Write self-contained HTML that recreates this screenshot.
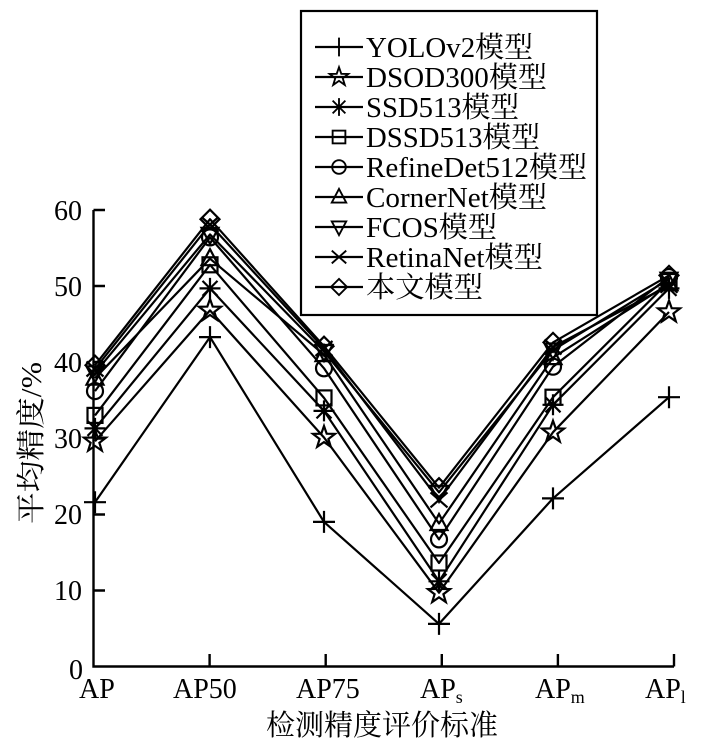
<!DOCTYPE html>
<html>
<head>
<meta charset="utf-8">
<style>
html,body{margin:0;padding:0;background:#fff;}
svg{display:block;}
text{font-family:"Liberation Serif","Noto Serif CJK SC",serif;fill:#000;}
</style>
</head>
<body>
<svg width="708" height="749" viewBox="0 0 708 749" xmlns="http://www.w3.org/2000/svg">
<defs>
  <g id="mPlus" fill="none" stroke="#000" stroke-width="2.2"><path d="M-11,0H11M0,-11V11"/></g>
  <g id="mStar" fill="none" stroke="#000" stroke-width="2.2"><polygon points="0,-11.5 2.7,-3.8 11,-3.6 4.4,1.5 6.8,9.3 0,4.6 -6.8,9.3 -4.4,1.5 -11,-3.6 -2.7,-3.8"/></g>
  <g id="mAst" fill="none" stroke="#000" stroke-width="2.2"><path d="M-10.5,0H10.5M0,-10.5V10.5M-7.5,-7.5L7.5,7.5M-7.5,7.5L7.5,-7.5"/></g>
  <g id="mSq" fill="none" stroke="#000" stroke-width="2.2"><rect x="-7.5" y="-7.5" width="15" height="15"/></g>
  <g id="mCir" fill="none" stroke="#000" stroke-width="2.2"><circle r="8"/></g>
  <g id="mTri" fill="none" stroke="#000" stroke-width="2.2"><polygon points="0,-9.5 8.5,6.5 -8.5,6.5"/></g>
  <g id="mNab" fill="none" stroke="#000" stroke-width="2.2"><polygon points="0,9.5 8.5,-6.5 -8.5,-6.5"/></g>
  <g id="mX" fill="none" stroke="#000" stroke-width="2.2"><path d="M-8.5,-7.5L8.5,7.5M-8.5,7.5L8.5,-7.5"/></g>
  <g id="mDia" fill="none" stroke="#000" stroke-width="2.2"><polygon points="0,-9.5 9.5,0 0,9.5 -9.5,0"/></g>
</defs>

<!-- axes -->
<g stroke="#000" stroke-width="2.4" fill="none">
  <path d="M93.5,210V666.5H674"/>
  <path d="M93.5,210H105M93.5,286H105M93.5,362H105M93.5,438.5H105M93.5,514.5H105M93.5,590.5H105"/>
  <path d="M209.6,666.5V654M325.7,666.5V654M441.8,666.5V654M557.9,666.5V654M674,666.5V654"/>
</g>

<!-- y tick labels -->
<g font-size="28" text-anchor="end">
  <text x="82" y="220">60</text>
  <text x="82" y="296">50</text>
  <text x="82" y="372">40</text>
  <text x="82" y="448">30</text>
  <text x="82" y="524">20</text>
  <text x="82" y="600">10</text>
  <text x="83" y="679">0</text>
</g>

<!-- x tick labels -->
<g font-size="28">
  <text x="79" y="698">AP</text>
  <text x="173" y="698">AP50</text>
  <text x="296" y="698">AP75</text>
  <text x="420" y="698">AP<tspan font-size="18" dy="5">s</tspan></text>
  <text x="535" y="698">AP<tspan font-size="18" dy="5">m</tspan></text>
  <text x="645" y="698">AP<tspan font-size="18" dy="5">l</tspan></text>
</g>

<!-- axis titles -->
<text x="382" y="735" font-size="29" text-anchor="middle" textLength="232" lengthAdjust="spacingAndGlyphs">检测精度评价标准</text>
<text transform="translate(41,443) rotate(-90)" font-size="29" text-anchor="middle" textLength="162" lengthAdjust="spacingAndGlyphs">平均精度/%</text>

<!-- series lines -->
<g fill="none" stroke="#000" stroke-width="2.2" stroke-linejoin="round">
  <polyline points="95,502.2 210,337.1 324,521.9 439,623.9 553,498.4 669,397.2"/>
  <polyline points="95,441.3 210,310.4 324,437.5 439,592.7 553,432.2 669,312.0"/>
  <polyline points="95,428.4 210,288.4 324,410.9 439,581.3 553,404.8 669,288.4"/>
  <polyline points="95,415.4 210,264.8 324,397.9 439,563.0 553,397.2 669,281.5"/>
  <polyline points="95,391.1 210,237.4 324,368.3 439,539.4 553,366.7 669,277.0"/>
  <polyline points="95,378.2 210,258.7 324,354.6 439,523.5 553,357.6 669,283.8"/>
  <polyline points="95,372.8 210,234.4 324,351.5 439,492.3 553,350.0 669,279.2"/>
  <polyline points="95,369.0 210,224.5 324,348.5 439,499.9 553,347.0 669,285.3"/>
  <polyline points="95,365.2 210,219.2 324,346.2 439,487.7 553,342.4 669,275.4"/>
</g>

<!-- markers -->
<g>
  <use href="#mPlus" x="95" y="502.2"/><use href="#mPlus" x="210" y="337.1"/><use href="#mPlus" x="324" y="521.9"/><use href="#mPlus" x="439" y="623.9"/><use href="#mPlus" x="553" y="498.4"/><use href="#mPlus" x="669" y="397.2"/>
  <use href="#mStar" x="95" y="441.3"/><use href="#mStar" x="210" y="310.4"/><use href="#mStar" x="324" y="437.5"/><use href="#mStar" x="439" y="592.7"/><use href="#mStar" x="553" y="432.2"/><use href="#mStar" x="669" y="312.0"/>
  <use href="#mAst" x="95" y="428.4"/><use href="#mAst" x="210" y="288.4"/><use href="#mAst" x="324" y="410.9"/><use href="#mAst" x="439" y="581.3"/><use href="#mAst" x="553" y="404.8"/><use href="#mAst" x="669" y="288.4"/>
  <use href="#mSq" x="95" y="415.4"/><use href="#mSq" x="210" y="264.8"/><use href="#mSq" x="324" y="397.9"/><use href="#mSq" x="439" y="563.0"/><use href="#mSq" x="553" y="397.2"/><use href="#mSq" x="669" y="281.5"/>
  <use href="#mCir" x="95" y="391.1"/><use href="#mCir" x="210" y="237.4"/><use href="#mCir" x="324" y="368.3"/><use href="#mCir" x="439" y="539.4"/><use href="#mCir" x="553" y="366.7"/><use href="#mCir" x="669" y="277.0"/>
  <use href="#mTri" x="95" y="378.2"/><use href="#mTri" x="210" y="258.7"/><use href="#mTri" x="324" y="354.6"/><use href="#mTri" x="439" y="523.5"/><use href="#mTri" x="553" y="357.6"/><use href="#mTri" x="669" y="283.8"/>
  <use href="#mNab" x="95" y="372.8"/><use href="#mNab" x="210" y="234.4"/><use href="#mNab" x="324" y="351.5"/><use href="#mNab" x="439" y="492.3"/><use href="#mNab" x="553" y="350.0"/><use href="#mNab" x="669" y="279.2"/>
  <use href="#mX" x="95" y="369.0"/><use href="#mX" x="210" y="224.5"/><use href="#mX" x="324" y="348.5"/><use href="#mX" x="439" y="499.9"/><use href="#mX" x="553" y="347.0"/><use href="#mX" x="669" y="285.3"/>
  <use href="#mDia" x="95" y="365.2"/><use href="#mDia" x="210" y="219.2"/><use href="#mDia" x="324" y="346.2"/><use href="#mDia" x="439" y="487.7"/><use href="#mDia" x="553" y="342.4"/><use href="#mDia" x="669" y="275.4"/>
</g>

<!-- legend -->
<rect x="301" y="11" width="296" height="304" fill="#fff" stroke="#000" stroke-width="2.2"/>
<g stroke="#000" stroke-width="2.2">
  <path d="M315,47H363M315,77H363M315,107H363M315,137H363M315,167H363M315,197H363M315,227H363M315,257H363M315,287H363"/>
</g>
<g>
  <use href="#mPlus" transform="translate(339,47) scale(0.85)"/>
  <use href="#mStar" transform="translate(339,77) scale(0.85)"/>
  <use href="#mAst" transform="translate(339,107) scale(0.85)"/>
  <use href="#mSq" transform="translate(339,137) scale(0.85)"/>
  <use href="#mCir" transform="translate(339,167) scale(0.85)"/>
  <use href="#mTri" transform="translate(339,197) scale(0.85)"/>
  <use href="#mNab" transform="translate(339,227) scale(0.85)"/>
  <use href="#mX" transform="translate(339,257) scale(0.85)"/>
  <use href="#mDia" transform="translate(339,287) scale(0.85)"/>
</g>
<g font-size="29">
  <text x="366" y="57" textLength="167" lengthAdjust="spacingAndGlyphs">YOLOv2模型</text>
  <text x="366" y="87" textLength="181" lengthAdjust="spacingAndGlyphs">DSOD300模型</text>
  <text x="366" y="117" textLength="153" lengthAdjust="spacingAndGlyphs">SSD513模型</text>
  <text x="366" y="147" textLength="174" lengthAdjust="spacingAndGlyphs">DSSD513模型</text>
  <text x="366" y="177" textLength="221" lengthAdjust="spacingAndGlyphs">RefineDet512模型</text>
  <text x="366" y="207" textLength="181" lengthAdjust="spacingAndGlyphs">CornerNet模型</text>
  <text x="366" y="237" textLength="131" lengthAdjust="spacingAndGlyphs">FCOS模型</text>
  <text x="366" y="267" textLength="177" lengthAdjust="spacingAndGlyphs">RetinaNet模型</text>
  <text x="366" y="297" textLength="117" lengthAdjust="spacingAndGlyphs">本文模型</text>
</g>
</svg>
</body>
</html>
